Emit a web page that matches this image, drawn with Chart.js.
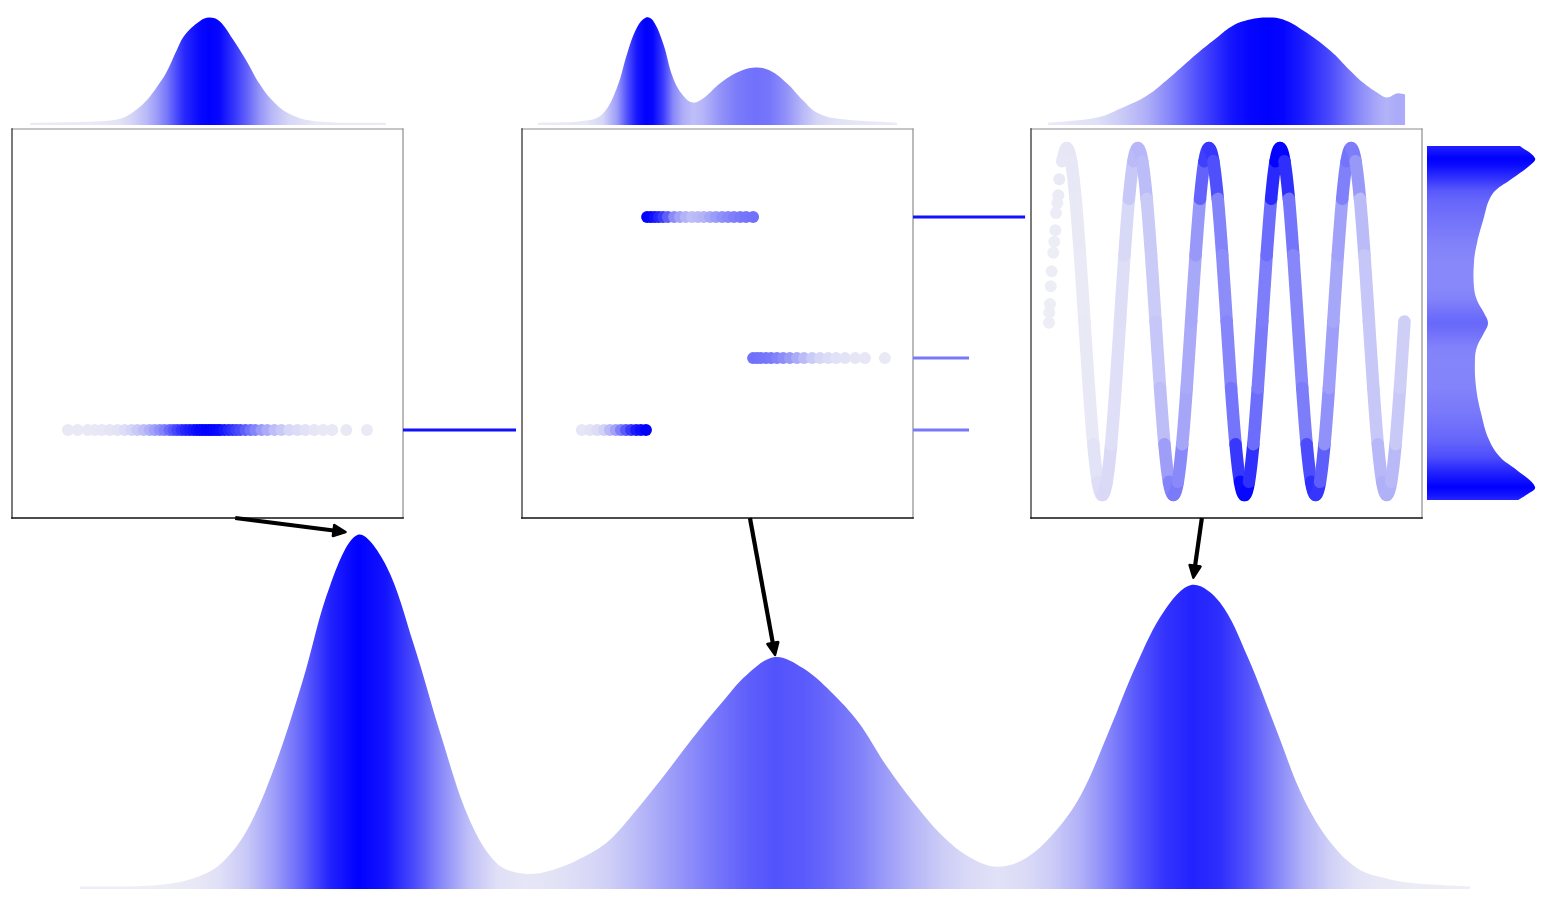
<!DOCTYPE html>
<html>
<head>
<meta charset="utf-8">
<script src="https://cdn.jsdelivr.net/npm/chart.js@4.4.1/dist/chart.umd.min.js"></script>
<style>
html,body{margin:0;padding:0;background:#fff;width:1553px;height:920px;overflow:hidden;position:relative;}
canvas.c{position:absolute;}
</style>
</head>
<body>
<script>
// ================= DATA =================
// Panel-level units: x 0..100 across each panel box, y 0..100 bottom..top.

// Top marginal densities (x in panel units, relative height, 100 = tallest)
const TOP1_X = [4.6, 22.4, 27.6, 30.9, 34.4, 37.0, 39.5, 42.1, 44.1, 48.0, 50.5, 53.1, 56.4, 59.9, 63.3, 66.6, 70.9, 77.8, 95.7];
const TOP1_V = [2, 3.5, 5.8, 11.9, 22.8, 35.1, 49.1, 69.3, 83.3, 96.6, 100, 96.6, 80.2, 60, 38.3, 22.8, 10.5, 3.5, 2];

const TOP2_X = [4.1, 16.6, 20.7, 24.3, 26.9, 29.4, 31.7, 33.5, 36.1, 38.6, 41.2, 43.7, 46.3, 50.6, 55.0, 59.6, 63.4, 67.8, 71.9, 75.4, 80.5, 95.9];
const TOP2_V = [2, 4.2, 10.7, 34.9, 66.5, 90.7, 100, 97.2, 75.8, 44.2, 27.4, 20.9, 24.6, 38.6, 48.8, 53.5, 50.7, 38.6, 22.8, 11.6, 6.0, 2];

const TOP3_X = [4.3, 16.9, 23.5, 29.7, 35.5, 42.5, 47.6, 51.7, 56.0, 60.4, 64.5, 69.6, 76.5, 81.6, 84.9, 88.5, 91.0, 93.6, 95.7];
const TOP3_V = [2, 7.0, 16.3, 27.4, 44.2, 66.5, 81.4, 92.6, 98.1, 100, 98.1, 87.9, 69.3, 50.7, 39.5, 30.2, 25.6, 29.3, 28.4];

// Right marginal density of panel 3 (y in panel units, width, 100 = widest)
const RIGHT_Y = [4.6, 5.9, 8.0, 12.3, 15.7, 20.1, 27.0, 33.7, 40.6, 44.0, 47.6, 50.1, 52.7, 56.0, 59.4, 65.6, 70.7, 77.4, 81.7, 84.3, 86.9, 90.7, 92.5, 95.6];
const RIGHT_W = [84.3, 91.7, 100, 83.3, 67.6, 57.4, 50, 45.4, 44.4, 46.3, 52.8, 56.5, 52.8, 46.3, 43.5, 43.5, 46.3, 52.8, 57.4, 63.9, 76.9, 95.4, 100, 86.1];

// Panel 1 points
const P1_X = [14.3, 16.8, 19.4, 21.2, 23.0, 25.0, 27.0, 28.8, 30.6, 32.1, 33.7, 35.2, 36.5, 37.8, 39.0, 40.3, 41.3, 42.3, 43.4, 44.4, 45.4, 46.4, 47.2, 48.0, 48.7, 49.5, 50.3, 51.0, 51.8, 52.6, 53.3, 54.3, 55.4, 56.4, 57.4, 58.4, 59.7, 61.0, 62.2, 63.8, 65.3, 67.1, 68.9, 70.9, 73.0, 75.0, 77.3, 79.6, 81.9, 85.5, 90.8];
const P1_Y = 22.6;

// Panel 2 clusters
const P2A_X = [32.0, 33.0, 34.0, 35.0, 36.1, 37.3, 38.9, 40.4, 41.9, 43.5, 45.0, 46.5, 48.1, 49.6, 51.2, 52.7, 54.2, 55.8, 57.3, 59.1];
const P2A_Y = 77.4;
const P2B_X = [59.1, 60.1, 61.1, 62.4, 63.7, 65.2, 66.8, 68.5, 70.3, 72.1, 74.2, 76.2, 78.3, 80.3, 82.6, 85.2, 87.7, 92.8];
const P2B_Y = 41.1;
const P2C_X = [15.3, 17.4, 19.2, 21.0, 22.5, 24.0, 25.3, 26.6, 27.9, 29.2, 30.4, 31.7];
const P2C_Y = 22.6;

// Panel 3: sparse leading points and the wave
const P3_DOT_X = [4.60, 4.68, 4.86, 5.04, 5.29, 5.70, 5.96, 6.21, 6.39, 6.73, 6.98, 7.24];
const P3_DOT_Y = [50.2, 52.8, 55.0, 59.6, 63.4, 68.2, 71.0, 74.0, 78.4, 81.0, 83.0, 87.1];
const SINE_X = [7.99, 9.13, 10.26, 11.40, 12.54, 13.67, 14.81, 15.95, 17.08, 18.22, 19.36, 20.49, 21.63,
  22.77, 23.90, 25.04, 26.18, 27.31, 28.45, 29.59, 30.72, 31.86, 33.00, 34.13, 35.27, 36.41, 37.54, 38.68, 39.82,
  40.95, 42.09, 43.23, 44.36, 45.50, 46.63, 47.77, 48.91, 50.05, 51.18, 52.32, 53.45, 54.59, 55.73, 56.86, 58.00,
  59.14, 60.27, 61.41, 62.55, 63.68, 64.82, 65.96, 67.09, 68.23, 69.37, 70.50, 71.64, 72.78, 73.91, 75.05, 76.19,
  77.32, 78.46, 79.60, 80.73, 81.87, 83.01, 84.14, 85.28, 86.42, 87.55, 88.69, 89.83, 90.96, 92.10, 93.24, 94.37, 95.51];
const SINE_Y = [91.71, 95.1, 91.71, 82.04, 67.57, 50.5, 33.43, 18.96, 9.29, 5.9, 9.29, 18.96, 33.43,
  50.5, 67.57, 82.04, 91.71, 95.1, 91.71, 82.04, 67.57, 50.5, 33.43, 18.96, 9.29, 5.9, 9.29, 18.96, 33.43,
  50.5, 67.57, 82.04, 91.71, 95.1, 91.71, 82.04, 67.57, 50.5, 33.43, 18.96, 9.29, 5.9, 9.29, 18.96, 33.43,
  50.5, 67.57, 82.04, 91.71, 95.1, 91.71, 82.04, 67.57, 50.5, 33.43, 18.96, 9.29, 5.9, 9.29, 18.96, 33.43,
  50.5, 67.57, 82.04, 91.71, 95.1, 91.71, 82.04, 67.57, 50.5, 33.43, 18.96, 9.29, 5.9, 9.29, 18.96, 33.43,
  50.5];

// Bottom combined density (x 0..100 along the curve, height, 100 = tallest peak)
const BOTTOM_X = [0, 2, 4, 6, 8, 10, 12, 14, 16, 18, 20, 22, 24, 26, 28, 30, 32, 34, 36, 38, 40, 42, 44, 46, 48, 50,
  52, 54, 56, 58, 60, 62, 64, 66, 68, 70, 72, 74, 76, 78, 80, 82, 84, 86, 88, 90, 92, 94, 96, 98, 100];
const BOTTOM_V = [0.7, 0.7, 0.8, 1.3, 2.8, 6.7, 16.5, 34.5, 58.5, 85.8, 100, 91.5, 69.2, 43, 19.8, 7.2, 4.3, 5.4, 8.6, 13.5, 22.2, 31.9, 42.2, 51.8, 60.6, 65.5,
  62.4, 55.8, 47.1, 34.9, 24.3, 15.2, 9.0, 6.3, 8.6, 15.5, 26.5, 44.3, 63.3, 78.5, 85.9, 81.0, 65.6, 45.7, 25.8, 13.0, 5.6, 3.0, 1.6, 1.1, 0.7];

// Links between panels: source panel, y level, length (fraction of gap), strength
const LINK_PANEL = [0, 1, 1, 1];
const LINK_Y = [22.6, 77.4, 41.1, 22.6];
const LINK_LEN = [0.95, 0.95, 0.475, 0.475];
const LINK_T = [0.93, 0.93, 0.5, 0.5];

// Arrows: start on panel bottom (panel x units) -> tip on bottom density (x, height)
const ARROW_FROM_X = [57.1, 58.3, 43.7];
const ARROW_TO_X = [19.1, 50.0, 80.1];
const ARROW_TO_V = [100.8, 66.1, 87.9];

// ================= LAYOUT / STYLE =================
const PANEL_LEFT = [12, 522, 1031];
const PANEL_W = 391;
const PANEL_TOP = 129;
const PANEL_H = 389;
const LOW = [240, 240, 246], HIGH = [0, 0, 255];

function cmap(t) {
  t = Math.max(0, Math.min(1, t));
  const c = LOW.map((l, i) => Math.round(l + (HIGH[i] - l) * t));
  return 'rgb(' + c[0] + ',' + c[1] + ',' + c[2] + ')';
}
function interp(xs, ys, x) {
  if (x <= xs[0]) return ys[0];
  for (let i = 1; i < xs.length; i++) {
    if (x <= xs[i]) { const f = (x - xs[i - 1]) / (xs[i] - xs[i - 1]); return ys[i - 1] + f * (ys[i] - ys[i - 1]); }
  }
  return ys[ys.length - 1];
}
function makeCanvas(left, top, w, h, z) {
  const cv = document.createElement('canvas');
  cv.className = 'c'; cv.width = w; cv.height = h;
  cv.style.left = left + 'px'; cv.style.top = top + 'px';
  cv.style.width = w + 'px'; cv.style.height = h + 'px';
  if (z) cv.style.zIndex = z;
  document.body.appendChild(cv);
  return cv;
}
const BASE = { responsive: false, animation: false, events: [], devicePixelRatio: 1,
  plugins: { legend: { display: false }, tooltip: { enabled: false } } };

function hGrad(chart, xs, vs, vmax) {
  const { chartArea, scales } = chart;
  if (!chartArea) return cmap(0.5);
  const g = chart.ctx.createLinearGradient(chartArea.left, 0, chartArea.right, 0);
  const w = chartArea.right - chartArea.left;
  xs.forEach((x, i) => {
    const off = (scales.x.getPixelForValue(x) - chartArea.left) / w;
    g.addColorStop(Math.max(0, Math.min(1, off)), cmap(vs[i] / vmax));
  });
  return g;
}
function vGrad(chart, ys, ws, vmax) {
  const { chartArea, scales } = chart;
  if (!chartArea) return cmap(0.5);
  const g = chart.ctx.createLinearGradient(0, chartArea.top, 0, chartArea.bottom);
  const h = chartArea.bottom - chartArea.top;
  ys.forEach((y, i) => {
    const off = (scales.y.getPixelForValue(y) - chartArea.top) / h;
    g.addColorStop(Math.max(0, Math.min(1, off)), cmap(ws[i] / vmax));
  });
  return g;
}
const pts = (xs, ys) => xs.map((x, i) => ({ x: x, y: Array.isArray(ys) ? ys[i] : ys }));

// ---------- top marginal densities ----------
function topDensity(idx, xs, vs) {
  const cv = makeCanvas(PANEL_LEFT[idx], 10, PANEL_W, 115);
  return new Chart(cv, {
    type: 'line',
    data: { datasets: [{ data: pts(xs, vs), fill: 'origin', borderWidth: 0, borderColor: 'rgba(0,0,0,0)',
      pointRadius: 0, tension: 0.4,
      backgroundColor: (ctx) => hGrad(ctx.chart, xs, vs, 100) }] },
    options: Object.assign({}, BASE, { layout: { padding: 0, autoPadding: false },
      scales: { x: { type: 'linear', min: 0, max: 100, display: false }, y: { type: 'linear', min: 0, max: 107, display: false } } })
  });
}
topDensity(0, TOP1_X, TOP1_V);
topDensity(1, TOP2_X, TOP2_V);
topDensity(2, TOP3_X, TOP3_V);

// ---------- panels ----------
const framePlugin = {
  id: 'frame',
  beforeDatasetsDraw(chart) {
    const ctx = chart.ctx, a = chart.chartArea;
    const seg = (x1, y1, x2, y2, c, w) => {
      ctx.strokeStyle = c; ctx.lineWidth = w;
      ctx.beginPath(); ctx.moveTo(x1, y1); ctx.lineTo(x2, y2); ctx.stroke();
    };
    ctx.save();
    ctx.lineCap = 'square';
    seg(a.left, a.top, a.right, a.top, '#8c8c8c', 1);
    seg(a.right, a.top, a.right, a.bottom, '#8c8c8c', 1.2);
    seg(a.left, a.top, a.left, a.bottom, '#333', 1.3);
    seg(a.left, a.bottom, a.right, a.bottom, '#111', 1.6);
    ctx.restore();
  }
};
function panelChart(idx, datasets) {
  const cv = makeCanvas(PANEL_LEFT[idx] - 3, PANEL_TOP - 3, PANEL_W + 6, PANEL_H + 6);
  const chart = new Chart(cv, {
    type: 'line',
    data: { datasets: datasets },
    options: Object.assign({}, BASE, { layout: { padding: 3, autoPadding: false },
      scales: { x: { type: 'linear', min: 0, max: 100, display: false }, y: { type: 'linear', min: 0, max: 100, display: false } } }),
    plugins: [framePlugin]
  });
  chart.$left = PANEL_LEFT[idx] - 3; chart.$top = PANEL_TOP - 3;
  return chart;
}
function dotSet(xs, ys, colorFn) {
  return { data: pts(xs, ys), showLine: false, pointRadius: 6, pointBorderWidth: 0, pointHoverRadius: 6,
    pointBackgroundColor: (ctx) => colorFn(xs[ctx.dataIndex], Array.isArray(ys) ? ys[ctx.dataIndex] : ys) };
}
const col1 = (x) => cmap(interp(TOP1_X, TOP1_V, x) / 100);
const col2 = (x) => cmap(interp(TOP2_X, TOP2_V, x) / 100);
const col3 = (x, y) => cmap(interp(TOP3_X, TOP3_V, x) / 100 * Math.min(1, interp(RIGHT_Y, RIGHT_W, y) / 92));

const panels = [];
panels.push(panelChart(0, [dotSet(P1_X, P1_Y, col1)]));
panels.push(panelChart(1, [dotSet(P2C_X, P2C_Y, col2), dotSet(P2B_X, P2B_Y, col2), dotSet(P2A_X, P2A_Y, col2)]));
panels.push(panelChart(2, [
  dotSet(P3_DOT_X, P3_DOT_Y, col3),
  { data: pts(SINE_X, SINE_Y), showLine: true, fill: false, pointRadius: 0, borderWidth: 12.5,
    borderCapStyle: 'round', borderJoinStyle: 'round', cubicInterpolationMode: 'monotone',
    borderColor: col3(SINE_X[0], SINE_Y[0]),
    segment: { borderColor: (ctx) => col3((SINE_X[ctx.p0DataIndex] + SINE_X[ctx.p1DataIndex]) / 2,
                                          (SINE_Y[ctx.p0DataIndex] + SINE_Y[ctx.p1DataIndex]) / 2) } }
]));

// ---------- right marginal density of panel 3 ----------
(function () {
  const cv = makeCanvas(1427, PANEL_TOP - 3, 120, PANEL_H + 6);
  new Chart(cv, {
    type: 'line',
    data: { datasets: [{ data: RIGHT_Y.map((y, i) => ({ x: RIGHT_W[i], y: y })), fill: 'origin',
      borderWidth: 0, borderColor: 'rgba(0,0,0,0)', pointRadius: 0, tension: 0.4,
      backgroundColor: (ctx) => vGrad(ctx.chart, RIGHT_Y, RIGHT_W, 100) }] },
    options: Object.assign({}, BASE, { indexAxis: 'y', layout: { padding: { top: 3, bottom: 3, left: 0, right: 0 }, autoPadding: false },
      scales: { x: { type: 'linear', min: 0, max: 111.1, display: false }, y: { type: 'linear', min: 0, max: 100, display: false } } })
  });
})();

// ---------- bottom combined density ----------
const bottomChart = (function () {
  const cv = makeCanvas(80, 515, 1390, 375);
  const ch = new Chart(cv, {
    type: 'line',
    data: { datasets: [{ data: pts(BOTTOM_X, BOTTOM_V), fill: 'origin', borderWidth: 0, borderColor: 'rgba(0,0,0,0)',
      pointRadius: 0, tension: 0.35,
      backgroundColor: (ctx) => hGrad(ctx.chart, BOTTOM_X, BOTTOM_V, 100) }] },
    options: Object.assign({}, BASE, { layout: { padding: { top: 0, bottom: 1, left: 0, right: 0 }, autoPadding: false },
      scales: { x: { type: 'linear', min: 0, max: 100, display: false }, y: { type: 'linear', min: 0, max: 105.6, display: false } } })
  });
  ch.$left = 80; ch.$top = 515;
  return ch;
})();

// ---------- overlay: links and arrows ----------
function drawArrow(ctx, x1, y1, x2, y2) {
  const a = Math.atan2(y2 - y1, x2 - x1), hl = 12, hw = 5.5;
  const bx = x2 - hl * Math.cos(a), by = y2 - hl * Math.sin(a);
  ctx.save();
  ctx.strokeStyle = '#000'; ctx.fillStyle = '#000';
  ctx.lineWidth = 4.2; ctx.lineCap = 'butt';
  ctx.beginPath(); ctx.moveTo(x1, y1); ctx.lineTo(bx, by); ctx.stroke();
  ctx.lineWidth = 2.5; ctx.lineJoin = 'round';
  ctx.beginPath();
  ctx.moveTo(x2, y2);
  ctx.lineTo(bx + hw * Math.sin(a), by - hw * Math.cos(a));
  ctx.lineTo(bx - hw * Math.sin(a), by + hw * Math.cos(a));
  ctx.closePath(); ctx.fill(); ctx.stroke();
  ctx.restore();
}
const overlayPlugin = {
  id: 'links',
  afterDraw(chart) {
    const ctx = chart.ctx;
    LINK_PANEL.forEach((p, i) => {
      const src = panels[p], dst = panels[p + 1];
      const x0 = src.$left + src.chartArea.right;
      const gap = (dst.$left + dst.chartArea.left) - x0;
      const y = src.$top + src.scales.y.getPixelForValue(LINK_Y[i]);
      ctx.save();
      ctx.strokeStyle = cmap(LINK_T[i]); ctx.lineWidth = 3; ctx.lineCap = 'butt';
      ctx.beginPath(); ctx.moveTo(x0, y); ctx.lineTo(x0 + gap * LINK_LEN[i], y); ctx.stroke();
      ctx.restore();
    });
    ARROW_FROM_X.forEach((fx, i) => {
      const p = panels[i];
      const x1 = p.$left + p.scales.x.getPixelForValue(fx);
      const y1 = p.$top + p.chartArea.bottom;
      const x2 = bottomChart.$left + bottomChart.scales.x.getPixelForValue(ARROW_TO_X[i]);
      const y2 = bottomChart.$top + bottomChart.scales.y.getPixelForValue(ARROW_TO_V[i]);
      drawArrow(ctx, x1, y1, x2, y2);
    });
  }
};
(function () {
  const cv = makeCanvas(0, 0, 1553, 920, 10);
  cv.style.pointerEvents = 'none';
  new Chart(cv, {
    type: 'line',
    data: { datasets: [] },
    options: Object.assign({}, BASE, { layout: { padding: 0, autoPadding: false },
      scales: { x: { type: 'linear', min: 0, max: 1, display: false }, y: { type: 'linear', min: 0, max: 1, display: false } } }),
    plugins: [overlayPlugin]
  });
})();
</script>
</body>
</html>
